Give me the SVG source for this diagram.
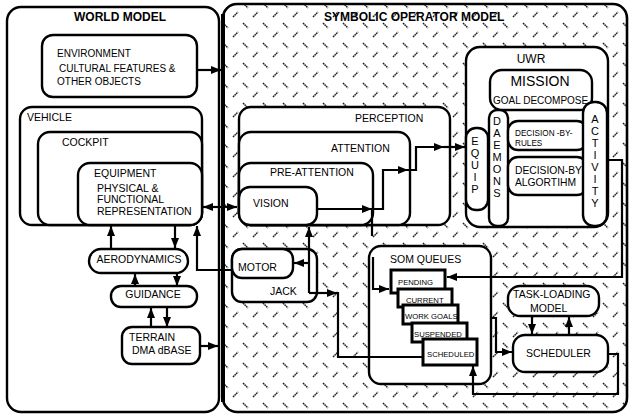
<svg xmlns="http://www.w3.org/2000/svg" width="631" height="415" viewBox="0 0 631 415">
<defs>
<pattern id="plate" width="20" height="20" patternUnits="userSpaceOnUse">
<rect width="20" height="20" fill="#fff"/>
<path d="M3 3 L8 8 M13 17 L18 12" stroke="#222" stroke-width="1.5" stroke-dasharray="1.6 0.6"/>
</pattern>
<marker id="ah" viewBox="0 0 10 8" refX="10" refY="4" markerWidth="11" markerHeight="8" markerUnits="userSpaceOnUse" orient="auto">
<path d="M0 0 L10 4 L0 8 z" fill="#000"/>
</marker>
</defs>
<style>
.box{fill:#fff;stroke:#000;stroke-width:2.4}
.q{fill:#fff;stroke:#000;stroke-width:3}
text{font-family:"Liberation Sans",Arial,sans-serif;fill:#000}
.t{font-size:10.5px}
.b{font-size:12px;font-weight:bold}
.s{font-size:7.7px}
.c{stroke:#000;stroke-width:2.2;fill:none;marker-end:url(#ah)}
.n{stroke:#000;stroke-width:2.2;fill:none}
.v{text-anchor:middle}
</style>

<g id="world-model">
<rect class="box" x="7" y="7" width="212" height="405" rx="14"/>
<text class="b v" x="120" y="21">WORLD MODEL</text>
</g>

<g id="som">
<rect x="223" y="4" width="404" height="408" rx="14" fill="url(#plate)" stroke="#000" stroke-width="2.6"/>
<line x1="223" y1="14" x2="223" y2="402" stroke="#000" stroke-width="4"/>
<text class="b" x="324" y="21">SYMBOLIC OPERATOR MODEL</text>
</g>

<g id="environment">
<rect class="box" x="42" y="35" width="155" height="62" rx="11"/>
<text class="t" x="57" y="57" style="font-size:10px">ENVIRONMENT</text>
<text class="t" x="59" y="72" style="font-size:10px">CULTURAL FEATURES &amp;</text>
<text class="t" x="57" y="85" style="font-size:10px">OTHER OBJECTS</text>
</g>

<g id="vehicle">
<rect class="box" x="20" y="107" width="182" height="118" rx="12"/>
<text class="t" x="27" y="121">VEHICLE</text>
</g>
<g id="cockpit">
<rect class="box" x="38" y="132" width="164" height="93" rx="12"/>
<text class="t" x="62" y="146">COCKPIT</text>
</g>
<g id="equipment">
<rect class="box" x="78" y="163" width="124" height="62" rx="12"/>
<text class="t" x="94" y="177">EQUIPMENT</text>
<text class="t" x="97" y="192">PHYSICAL  &amp;</text>
<text class="t" x="97" y="202.5">FUNCTIONAL</text>
<text class="t" x="97" y="215">REPRESENTATION</text>
</g>

<g id="aerodynamics">
<rect class="box" x="89" y="249" width="99" height="24" rx="12"/>
<text class="t v" x="139" y="263">AERODYNAMICS</text>
</g>
<g id="guidance">
<rect class="box" x="111" y="286" width="86" height="21" rx="10"/>
<text class="t v" x="153" y="298">GUIDANCE</text>
</g>
<g id="terrain">
<rect class="box" x="122" y="327" width="78" height="37" rx="10"/>
<text class="t" x="129" y="341">TERRAIN</text>
<text class="t" x="132" y="354">DMA dBASE</text>
</g>

<g id="perception">
<rect class="box" x="239" y="107" width="211" height="118" rx="12"/>
<text class="t" x="355" y="122">PERCEPTION</text>
</g>
<g id="attention">
<rect class="box" x="239" y="132" width="171" height="93" rx="12"/>
<text class="t" x="331" y="152">ATTENTION</text>
</g>
<g id="pre-attention">
<rect class="box" x="239" y="163" width="134" height="62" rx="12"/>
<text class="t" x="270" y="175.5">PRE-ATTENTION</text>
</g>
<g id="vision">
<rect class="box" x="239" y="187" width="78" height="38" rx="11"/>
<text class="t" x="253" y="207">VISION</text>
</g>

<g id="jack">
<rect class="box" x="232" y="249" width="85" height="53" rx="10"/>
<text class="t" x="270" y="295">JACK</text>
</g>
<g id="motor">
<rect class="box" x="232" y="249" width="61" height="29" rx="10"/>
<text class="t" x="238" y="270.5">MOTOR</text>
</g>

<g id="uwr">
<rect class="box" x="466" y="47" width="142" height="180" rx="14"/>
<text class="v" x="531" y="63" style="font-size:12px">UWR</text>
</g>
<g id="mission">
<rect class="box" x="490" y="70" width="102" height="40" rx="12"/>
<text class="v" x="540" y="86" style="font-size:14px">MISSION</text>
<text x="493" y="104" style="font-size:10px">GOAL DECOMPOSE</text>
</g>
<g id="daemons">
<rect class="box" x="489" y="110" width="19" height="116" rx="8"/>
<g class="v" style="font-size:11px">
<text x="497" y="125">D</text><text x="497" y="137">A</text><text x="497" y="149">E</text><text x="497" y="161">M</text><text x="497" y="173">O</text><text x="497" y="185">N</text><text x="497" y="197">S</text>
</g>
</g>
<g id="equip">
<rect class="box" x="466" y="128" width="22" height="82" rx="10"/>
<g class="v" style="font-size:11px">
<text x="475" y="145">E</text><text x="475" y="157">Q</text><text x="475" y="169">U</text><text x="475" y="181">I</text><text x="475" y="193">P</text>
</g>
</g>
<g id="decision-rules">
<rect class="box" x="508" y="121" width="79" height="29" rx="10"/>
<text x="515" y="136" style="font-size:8.2px">DECISION -BY-</text>
<text x="515" y="145.7" style="font-size:8.2px">RULES</text>
</g>
<g id="decision-algorithm">
<rect class="box" x="508" y="157" width="79" height="38" rx="10"/>
<text x="515" y="174" style="font-size:10.3px">DECISION-BY</text>
<text x="515" y="186" style="font-size:10.3px">ALGORTIHM</text>
</g>
<g id="activity">
<rect class="box" x="583" y="102" width="24" height="124" rx="11"/>
<g class="v" style="font-size:11px">
<text x="595" y="123">A</text><text x="595" y="135">C</text><text x="595" y="147">T</text><text x="595" y="159">I</text><text x="595" y="171">V</text><text x="595" y="183">I</text><text x="595" y="195">T</text><text x="595" y="207">Y</text>
</g>
</g>

<g id="som-queues">
<rect class="box" x="369" y="246" width="122" height="138" rx="12"/>
<text class="t" x="390" y="263">SOM QUEUES</text>
</g>
<g id="pending">
<rect class="q" x="391" y="270" width="54" height="23"/>
<text class="s" x="398" y="285">PENDING</text>
</g>
<g id="current">
<rect class="q" x="398" y="289" width="54" height="18"/>
<text class="s" x="406" y="303">CURRENT</text>
</g>
<g id="work-goals">
<rect class="q" x="403" y="305" width="55" height="19"/>
<text class="s" x="405" y="318.7">WORK GOALS</text>
</g>
<g id="suspended">
<rect class="q" x="412" y="323" width="55" height="19"/>
<text class="s" x="414" y="337">SUSPENDED</text>
</g>
<g id="scheduled">
<rect class="q" x="423" y="339" width="54" height="26"/>
<text class="s" x="427" y="356.5">SCHEDULED</text>
</g>

<g id="task-loading">
<rect class="box" x="508" y="286" width="91" height="30" rx="12"/>
<text class="t" x="513" y="298">TASK-LOADING</text>
<text class="t" x="530" y="311.5">MODEL</text>
</g>
<g id="scheduler">
<rect class="box" x="513" y="335" width="95" height="37" rx="12"/>
<text class="t" x="526" y="357">SCHEDULER</text>
</g>

<g id="connectors">
<path class="c" d="M197 70 H221"/>
<path class="c" d="M214 207 H237"/>
<path class="c" d="M214 207 H203"/>
<path class="c" d="M111 249 V226"/>
<path class="c" d="M175 226 V248"/>
<path class="c" d="M231 270 H197 V226"/>
<path class="c" d="M135 286 V274"/>
<path class="c" d="M177 274 V286"/>
<path class="c" d="M151 327 V308"/>
<path class="c" d="M167 308 V327"/>
<path class="c" d="M200 346 H218"/>
<path class="c" d="M317 209 H372"/>
<path class="c" d="M372 209 H383 V170 H408"/>
<path class="c" d="M408 170 H416 V147 H444"/>
<path class="c" d="M444 147 H465"/>
<path class="n" d="M372 209 V236"/>
<path class="c" d="M373 257 V289 H389"/>
<path class="c" d="M309 293 V227"/>
<path class="c" d="M309 263 H294"/>
<path class="c" d="M309 293 H337"/>
<path class="n" d="M337 293 H338 V357 H423"/>
<path class="c" d="M607 160 H622 V277 H447"/>
<path class="c" d="M491 318 H496 V352 H512"/>
<path class="c" d="M532 316 V334"/>
<path class="c" d="M569 335 V317"/>
<path class="c" d="M608 354 H618 V394 H473 V366"/>
</g>
</svg>
